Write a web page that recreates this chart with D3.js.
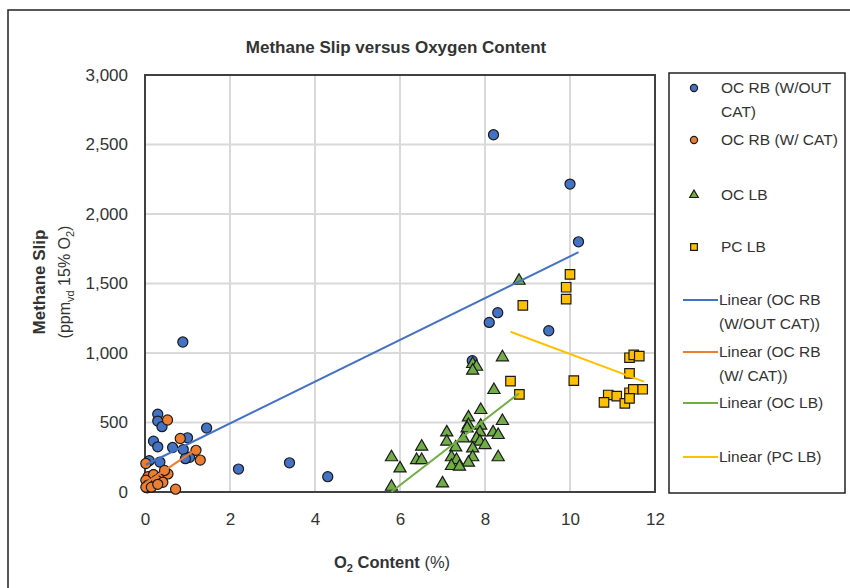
<!DOCTYPE html>
<html>
<head>
<meta charset="utf-8">
<title>Methane Slip versus Oxygen Content</title>
<script src="https://cdn.jsdelivr.net/npm/d3@7"></script>
<style>
  body { margin: 0; background: #fff; }
  text { font-family: "Liberation Sans", Arial, sans-serif; fill: #333; }
</style>
</head>
<body>
<script>

// data
var seriesNames = ["OC RB (W/OUT CAT)", "OC RB (W/ CAT)", "OC LB", "PC LB"];

var rbNoCatO2 = [0.89, 0.30, 0.30, 0.40, 1.45, 0.20, 0.30, 0.65, 1.00, 0.90, 1.05, 0.95, 0.10, 0.35, 0.20, 0.05, 0.15,
                 2.20, 3.40, 4.30, 7.70, 8.10, 8.30, 9.50, 8.20, 10.00, 10.20];
var rbNoCatCH4 = [1079, 560, 510, 470, 460, 365, 325, 320, 390, 305, 250, 240, 225, 215, 125, 30, 60,
                  165, 210, 110, 945, 1220, 1290, 1160, 2570, 2215, 1800];

var rbCatO2 = [0.53, 0.83, 1.20, 1.30, 0.02, 0.72, 0.07, 0.20, 0.38, 0.54, 0.46, 0.02, 0.27, 0.42, 0.07, 0.02, 0.15, 0.30];
var rbCatCH4 = [518, 385, 300, 230, 205, 20, 110, 125, 110, 130, 155, 85, 85, 70, 50, 35, 35, 55];

var lbO2 = [8.80, 8.41, 7.71, 7.80, 7.71, 8.21, 7.90, 7.61, 8.41, 7.61, 7.90, 7.10, 7.58, 7.88, 8.19, 8.31, 7.49, 7.80,
            7.10, 7.88, 8.00, 7.31, 7.71, 6.51, 7.71, 7.21, 7.33, 7.61, 7.21, 7.40, 8.31, 5.80, 6.39, 6.51, 6.00, 7.00, 5.80];
var lbCH4 = [1520, 969, 921, 901, 873, 734, 590, 537, 511, 482, 477, 429, 458, 429, 429, 410, 386, 386,
             362, 362, 338, 321, 314, 326, 250, 250, 230, 211, 187, 182, 250, 250, 230, 230, 170, 62, 38];

var pcO2 = [10.00, 9.91, 9.91, 8.89, 8.60, 8.81, 10.09, 11.40, 11.50, 11.63, 11.40, 11.40, 11.49, 11.71, 10.90, 11.10, 10.80, 11.29, 11.40];
var pcCH4 = [1566, 1473, 1388, 1343, 798, 703, 801, 966, 986, 978, 854, 714, 739, 739, 698, 690, 645, 638, 674];

// linear trendlines (slope, intercept, x range) as shown in the chart
var trendSlope = [150.2, 205, 236, -114.3];
var trendIntercept = [193, 60, -1367, 2136];
var trendFrom = [0.02, 0.0, 5.80, 8.60];
var trendTo = [10.20, 1.22, 8.80, 11.74];

var xTicks = [0, 2, 4, 6, 8, 10, 12];
var yTicks = [0, 500, 1000, 1500, 2000, 2500, 3000];

var colors = ["#4472C4", "#ED7D31", "#70AD47", "#FFC000"];

var w = 850, h = 588;

var svg = d3.select("body").append("svg")
  .attr("width", w)
  .attr("height", h);

svg.append("rect").attr("width", w).attr("height", h).attr("fill", "#fff");

// outer chart border
svg.append("rect")
  .attr("x", 8).attr("y", 10)
  .attr("width", 900).attr("height", 700)
  .attr("fill", "none")
  .attr("stroke", "#222")
  .attr("stroke-width", 1.5);

var x = d3.scaleLinear().domain([0, 12]).range([145, 655]);
var y = d3.scaleLinear().domain([0, 3000]).range([492, 75]);

// gridlines
svg.append("g")
  .selectAll("line")
  .data(xTicks)
  .enter().append("line")
  .attr("x1", function(d) { return x(d); })
  .attr("x2", function(d) { return x(d); })
  .attr("y1", y(0)).attr("y2", y(3000))
  .attr("stroke", "#d9d9d9").attr("stroke-width", 2);

svg.append("g")
  .selectAll("line")
  .data(yTicks)
  .enter().append("line")
  .attr("x1", x(0)).attr("x2", x(12))
  .attr("y1", function(d) { return y(d); })
  .attr("y2", function(d) { return y(d); })
  .attr("stroke", "#d9d9d9").attr("stroke-width", 2);

// plot border
svg.append("rect")
  .attr("x", x(0)).attr("y", y(3000))
  .attr("width", x(12) - x(0)).attr("height", y(0) - y(3000))
  .attr("fill", "none")
  .attr("stroke", "#404040")
  .attr("stroke-width", 2);

// axes
var xAxis = svg.append("g")
  .attr("transform", "translate(0," + y(0) + ")")
  .call(d3.axisBottom(x).tickValues(xTicks).tickSize(0).tickPadding(21));
var yAxis = svg.append("g")
  .attr("transform", "translate(" + x(0) + ",0)")
  .call(d3.axisLeft(y).tickValues(yTicks).tickFormat(d3.format(",")).tickSize(0).tickPadding(17));

[xAxis, yAxis].forEach(function(a) {
  a.select(".domain").remove();
  a.selectAll("text")
    .attr("font-size", "17px")
    .attr("font-family", "Liberation Sans, Arial, sans-serif")
    .attr("fill", "#333");
});

// markers
var symbols = [d3.symbolCircle, d3.symbolCircle, d3.symbolTriangle, d3.symbolSquare];
var symSizes = [80, 80, 64, 90];
var seriesX = [rbNoCatO2, rbCatO2, lbO2, pcO2];
var seriesY = [rbNoCatCH4, rbCatCH4, lbCH4, pcCH4];

seriesX.forEach(function(xs, s) {
  svg.append("g")
    .selectAll("path")
    .data(xs)
    .enter().append("path")
    .attr("d", d3.symbol().type(symbols[s]).size(symSizes[s]))
    .attr("transform", function(d, i) {
      return "translate(" + x(d) + "," + y(seriesY[s][i]) + ")";
    })
    .attr("fill", colors[s])
    .attr("stroke", "#1a1a1a")
    .attr("stroke-width", 1.2);
});

// trendlines
var line = d3.line()
  .x(function(d) { return x(d[0]); })
  .y(function(d) { return y(d[1]); });

trendSlope.forEach(function(m, s) {
  var pts = [trendFrom[s], trendTo[s]].map(function(v) {
    return [v, m * v + trendIntercept[s]];
  });
  svg.append("path")
    .attr("d", line(pts))
    .attr("fill", "none")
    .attr("stroke", colors[s])
    .attr("stroke-width", 2);
});

// title
svg.append("text")
  .attr("x", 396).attr("y", 53)
  .attr("text-anchor", "middle")
  .attr("font-size", "17px")
  .attr("font-weight", "bold")
  .attr("fill", "#111")
  .text("Methane Slip versus Oxygen Content");

// x axis title
var xt = svg.append("text")
  .attr("x", 392).attr("y", 568)
  .attr("text-anchor", "middle")
  .attr("font-size", "16.5px");
xt.append("tspan").attr("font-weight", "bold").text("O");
xt.append("tspan").attr("font-weight", "bold").attr("font-size", "11px").attr("dy", 4).text("2");
xt.append("tspan").attr("font-weight", "bold").attr("dy", -4).text(" Content");
xt.append("tspan").text(" (%)");

// y axis title
var yt = svg.append("g").attr("transform", "translate(39,282) rotate(-90)");
yt.append("text")
  .attr("text-anchor", "middle")
  .attr("dy", "0.35em")
  .attr("font-size", "17px")
  .attr("font-weight", "bold")
  .text("Methane Slip");
var yt2 = yt.append("text")
  .attr("y", 25)
  .attr("text-anchor", "middle")
  .attr("dy", "0.35em")
  .attr("font-size", "16px");
yt2.append("tspan").text("(ppm");
yt2.append("tspan").attr("font-size", "11px").attr("dy", 4).text("vd");
yt2.append("tspan").attr("dy", -4).text(" 15% O");
yt2.append("tspan").attr("font-size", "11px").attr("dy", 4).text("2");
yt2.append("tspan").attr("dy", -4).text(")");

// legend
svg.append("rect")
  .attr("x", 669).attr("y", 73)
  .attr("width", 176).attr("height", 420)
  .attr("fill", "#fff")
  .attr("stroke", "#222")
  .attr("stroke-width", 1.5);

var legendRows = [
  { lines: ["OC RB (W/OUT", "CAT)"], y: 88, s: 0, kind: "mark" },
  { lines: ["OC RB (W/ CAT)"], y: 140, s: 1, kind: "mark" },
  { lines: ["OC LB"], y: 195, s: 2, kind: "mark" },
  { lines: ["PC LB"], y: 247, s: 3, kind: "mark" },
  { lines: ["Linear (OC RB", "(W/OUT CAT))"], y: 300, s: 0, kind: "line" },
  { lines: ["Linear (OC RB", "(W/ CAT))"], y: 352, s: 1, kind: "line" },
  { lines: ["Linear (OC LB)"], y: 403, s: 2, kind: "line" },
  { lines: ["Linear (PC LB)"], y: 457, s: 3, kind: "line" }
];

var lg = svg.append("g").selectAll("g")
  .data(legendRows)
  .enter().append("g")
  .attr("transform", function(d) { return "translate(0," + d.y + ")"; });

lg.filter(function(d) { return d.kind === "mark"; })
  .append("path")
  .attr("transform", "translate(694,0)")
  .attr("d", function(d) { return d3.symbol().type(symbols[d.s]).size(symSizes[d.s] * 0.5)(); })
  .attr("fill", function(d) { return colors[d.s]; })
  .attr("stroke", "#1a1a1a")
  .attr("stroke-width", 1.2);

lg.filter(function(d) { return d.kind === "line"; })
  .append("line")
  .attr("x1", 683).attr("x2", 718)
  .attr("stroke", function(d) { return colors[d.s]; })
  .attr("stroke-width", 2);

lg.append("text")
  .attr("x", function(d) { return d.kind === "mark" ? 721 : 719; })
  .attr("font-size", "15.5px")
  .selectAll("tspan")
  .data(function(d) { return d.lines; })
  .enter().append("tspan")
  .attr("x", function() { return this.parentNode.getAttribute("x"); })
  .attr("y", function(d, i) { return i * 24; })
  .attr("dy", "0.35em")
  .text(function(d) { return d; });

</script>
</body>
</html>
